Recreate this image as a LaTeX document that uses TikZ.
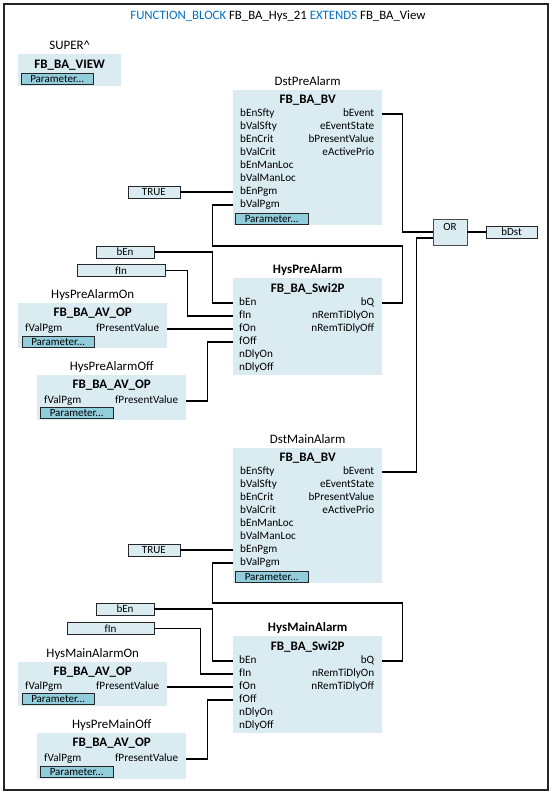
\documentclass[tikz,border=0pt]{standalone}
\usepackage{fontspec}
\setmainfont{Carlito}
\usetikzlibrary{positioning}

\definecolor{fbblue}{RGB}{218,236,242}
\definecolor{parblue}{RGB}{146,205,220}
\definecolor{kwblue}{RGB}{0,112,192}

\begin{document}
\begin{tikzpicture}[
    x=1pt, y=-1pt,
    fbbox/.style={fill=fbblue, anchor=north west, inner sep=0pt, minimum width=149pt},
    fbtitle/.style={font=\fontsize{13}{15}\selectfont\bfseries, inner sep=0pt, text height=9pt, text depth=3pt},
    instname/.style={font=\fontsize{12.9}{15}\selectfont, inner sep=0pt, text height=9pt, text depth=3pt},
    portin/.style={font=\fontsize{11.2}{13}\selectfont, inner sep=0pt, text height=7.5pt, text depth=2.5pt, anchor=west},
    portout/.style={portin, anchor=east},
    parbtn/.style={draw=black!85, fill=parblue, anchor=north west, inner sep=0pt, minimum width=72pt, minimum height=11pt, font=\fontsize{11}{12}\selectfont},
    varbox/.style={draw=black!85, fill=fbblue, inner sep=0pt, minimum height=12pt, font=\fontsize{11}{12}\selectfont},
    orbox/.style={draw=black!70, fill=fbblue, inner sep=0pt, minimum width=34pt, text height=11pt, text depth=15pt, font=\fontsize{11}{12}\selectfont},
    wire/.style={draw, line width=1.2pt},
    frame/.style={draw=black!85, line width=2pt}
]
    \useasboundingbox (0,0) rectangle (556,796);
    \draw[frame] (4,4) rectangle (548,790);

    \node[font=\fontsize{12.8}{15}\selectfont] (title) at (278,16) {\textcolor{kwblue}{FUNCTION\_BLOCK} FB\_BA\_Hys\_21 \textcolor{kwblue}{EXTENDS} FB\_BA\_View};

    % Base class
    \node[fbbox, minimum width=103pt, minimum height=32pt] (super) at (18,54) {};
    \node[instname, above=1pt of super] (supername) {SUPER\textasciicircum};
    \node[fbtitle, below=5pt of super.north] (supertitle) {FB\_BA\_VIEW};
    \node[parbtn] (superpar) at ([shift={(3,19)}]super.north west) {Parameter...};

    %% PRE ALARM
    \begin{scope}
        \node[fbbox, minimum height=135pt] (pdst) at (233,90) {};
        \node[instname, above=1pt of pdst] (pdstname) {DstPreAlarm};
        \node[fbtitle, below=4.5pt of pdst.north] (pdsttitle) {FB\_BA\_BV};
        \foreach \p [count=\i from 0] in {bEnSfty,bValSfty,bEnCrit,bValCrit,bEnManLoc,bValManLoc,bEnPgm,bValPgm}
            \node[portin] (pdst-\p) at ([shift={(7,{24+13*\i})}]pdst.north west) {\p};
        \foreach \p [count=\i from 0] in {bEvent,eEventState,bPresentValue,eActivePrio}
            \node[portout] (pdst-\p) at ([shift={(-8,{24+13*\i})}]pdst.north east) {\p};
        \node[parbtn, minimum width=73pt] (pdstpar) at ([shift={(2,123)}]pdst.north west) {Parameter...};

        \node[fbbox, minimum height=97pt] (phys) at (233,278) {};
        \node[instname, font=\fontsize{12.9}{15}\selectfont\bfseries, above=1pt of phys] (physname) {HysPreAlarm};
        \node[fbtitle, below=5.5pt of phys.north] (physttitle) {FB\_BA\_Swi2P};
        \foreach \p [count=\i from 0] in {bEn,fIn,fOn,fOff,nDlyOn,nDlyOff}
            \node[portin] (phys-\p) at ([shift={(6,{25+13*\i})}]phys.north west) {\p};
        \foreach \p [count=\i from 0] in {bQ,nRemTiDlyOn,nRemTiDlyOff}
            \node[portout] (phys-\p) at ([shift={(-8,{25+13*\i})}]phys.north east) {\p};

        \node[fbbox, minimum height=45pt] (pon) at (18,303) {};
        \node[instname, above=1pt of pon] (ponname) {HysPreAlarmOn};
        \node[fbtitle, below=4.5pt of pon.north] (pontitle) {FB\_BA\_AV\_OP};
        \node[portin] (pon-fValPgm) at ([shift={(7,26)}]pon.north west) {fValPgm};
        \node[portout] (pon-fPresentValue) at ([shift={(-8,26)}]pon.north east) {fPresentValue};
        \node[parbtn] (ponpar) at ([shift={(4,33)}]pon.north west) {Parameter...};

        \node[fbbox, minimum height=45pt] (poff) at (37,375) {};
        \node[instname, above=1pt of poff] (poffname) {HysPreAlarmOff};
        \node[fbtitle, below=4.5pt of poff.north] (pofftitle) {FB\_BA\_AV\_OP};
        \node[portin] (poff-fValPgm) at ([shift={(7,26)}]poff.north west) {fValPgm};
        \node[portout] (poff-fPresentValue) at ([shift={(-8,26)}]poff.north east) {fPresentValue};
        \node[parbtn, minimum width=73pt] (poffpar) at ([shift={(3,32)}]poff.north west) {Parameter...};

        \node[varbox, minimum width=52pt, left=60pt of pdst-bEnPgm] (ptrue) {TRUE};
        \node[varbox, minimum width=58pt] (pben) at (125,252) {bEn};
        \node[varbox, minimum width=88pt] (pfin) at (121,270.5) {fIn};

        % Wires
        \draw[wire] (ptrue.east) -- (pdst.west |- pdst-bEnPgm);
        \draw[wire] (pben.east) -- ++(58,0) |- (phys.west |- phys-bEn);
        \draw[wire] (pfin.east) -- ++(22,0) |- (phys.west |- phys-fIn);
        \draw[wire] (pon.east |- pon-fPresentValue) -- (phys.west |- phys-fOn);
        \draw[wire] (poff.east |- poff-fPresentValue) -- ++(21,0) |- (phys.west |- phys-fOff);
        % Feedback bQ -> bValPgm
        \draw[wire] (phys.east |- phys-bQ) -- ++(20,0) |- ++(-190,-57) |- (pdst.west |- pdst-bValPgm);
    \end{scope}

    % OR of both alarms
    \node[orbox] (or) at (450,232) {OR};
    \node[varbox, minimum width=51pt] (bdst) at (511.5,232) {bDst};
    \draw[wire] (or.east) -- (bdst.west);

    %% MAIN ALARM
    \begin{scope}
        \node[fbbox, minimum height=135pt] (mdst) at (233,448) {};
        \node[instname, above=1pt of mdst] (mdstname) {DstMainAlarm};
        \node[fbtitle, below=4.5pt of mdst.north] (mdsttitle) {FB\_BA\_BV};
        \foreach \p [count=\i from 0] in {bEnSfty,bValSfty,bEnCrit,bValCrit,bEnManLoc,bValManLoc,bEnPgm,bValPgm}
            \node[portin] (mdst-\p) at ([shift={(7,{24+13*\i})}]mdst.north west) {\p};
        \foreach \p [count=\i from 0] in {bEvent,eEventState,bPresentValue,eActivePrio}
            \node[portout] (mdst-\p) at ([shift={(-8,{24+13*\i})}]mdst.north east) {\p};
        \node[parbtn, minimum width=73pt] (mdstpar) at ([shift={(2,123)}]mdst.north west) {Parameter...};

        \node[fbbox, minimum height=97pt] (mhys) at (233,636) {};
        \node[instname, font=\fontsize{12.9}{15}\selectfont\bfseries, above=1pt of mhys] (mhysname) {HysMainAlarm};
        \node[fbtitle, below=5.5pt of mhys.north] (mhystitle) {FB\_BA\_Swi2P};
        \foreach \p [count=\i from 0] in {bEn,fIn,fOn,fOff,nDlyOn,nDlyOff}
            \node[portin] (mhys-\p) at ([shift={(6,{25+13*\i})}]mhys.north west) {\p};
        \foreach \p [count=\i from 0] in {bQ,nRemTiDlyOn,nRemTiDlyOff}
            \node[portout] (mhys-\p) at ([shift={(-8,{25+13*\i})}]mhys.north east) {\p};

        \node[fbbox, minimum height=44pt] (mon) at (18,662) {};
        \node[instname, above=1pt of mon] (monname) {HysMainAlarmOn};
        \node[fbtitle, below=4.5pt of mon.north] (montitle) {FB\_BA\_AV\_OP};
        \node[portin] (mon-fValPgm) at ([shift={(7,25)}]mon.north west) {fValPgm};
        \node[portout] (mon-fPresentValue) at ([shift={(-8,25)}]mon.north east) {fPresentValue};
        \node[parbtn] (monpar) at ([shift={(4,31)}]mon.north west) {Parameter...};

        \node[fbbox, minimum height=46pt] (moff) at (37,733) {};
        \node[instname, above=1pt of moff] (moffname) {HysPreMainOff};
        \node[fbtitle, below=4.5pt of moff.north] (mofftitle) {FB\_BA\_AV\_OP};
        \node[portin] (moff-fValPgm) at ([shift={(7,26)}]moff.north west) {fValPgm};
        \node[portout] (moff-fPresentValue) at ([shift={(-8,26)}]moff.north east) {fPresentValue};
        \node[parbtn, minimum width=73pt] (moffpar) at ([shift={(3,33)}]moff.north west) {Parameter...};

        \node[varbox, minimum width=52pt, left=60pt of mdst-bEnPgm] (mtrue) {TRUE};
        \node[varbox, minimum width=58pt] (mben) at (125,609) {bEn};
        \node[varbox, minimum width=87pt] (mfin) at (110.5,628.5) {fIn};

        % Wires
        \draw[wire] (mtrue.east) -- (mdst.west |- mdst-bEnPgm);
        \draw[wire] (mben.east) -- ++(58,0) |- (mhys.west |- mhys-bEn);
        \draw[wire] (mfin.east) -- ++(46,0) |- (mhys.west |- mhys-fIn);
        \draw[wire] (mon.east |- mon-fPresentValue) -- (mhys.west |- mhys-fOn);
        \draw[wire] (moff.east |- moff-fPresentValue) -- ++(21,0) |- (mhys.west |- mhys-fOff);
        % Feedback bQ -> bValPgm
        \draw[wire] (mhys.east |- mhys-bQ) -- ++(20,0) |- ++(-190,-58) |- (mdst.west |- mdst-bValPgm);
    \end{scope}

    % Events into OR
    \draw[wire] (pdst.east |- pdst-bEvent) -- ++(20,0) |- (or.west);
    \draw[wire] (mdst.east |- mdst-bEvent) -- ++(34,0) |- ([yshift=-6pt]or.west);

\end{tikzpicture}
\end{document}
